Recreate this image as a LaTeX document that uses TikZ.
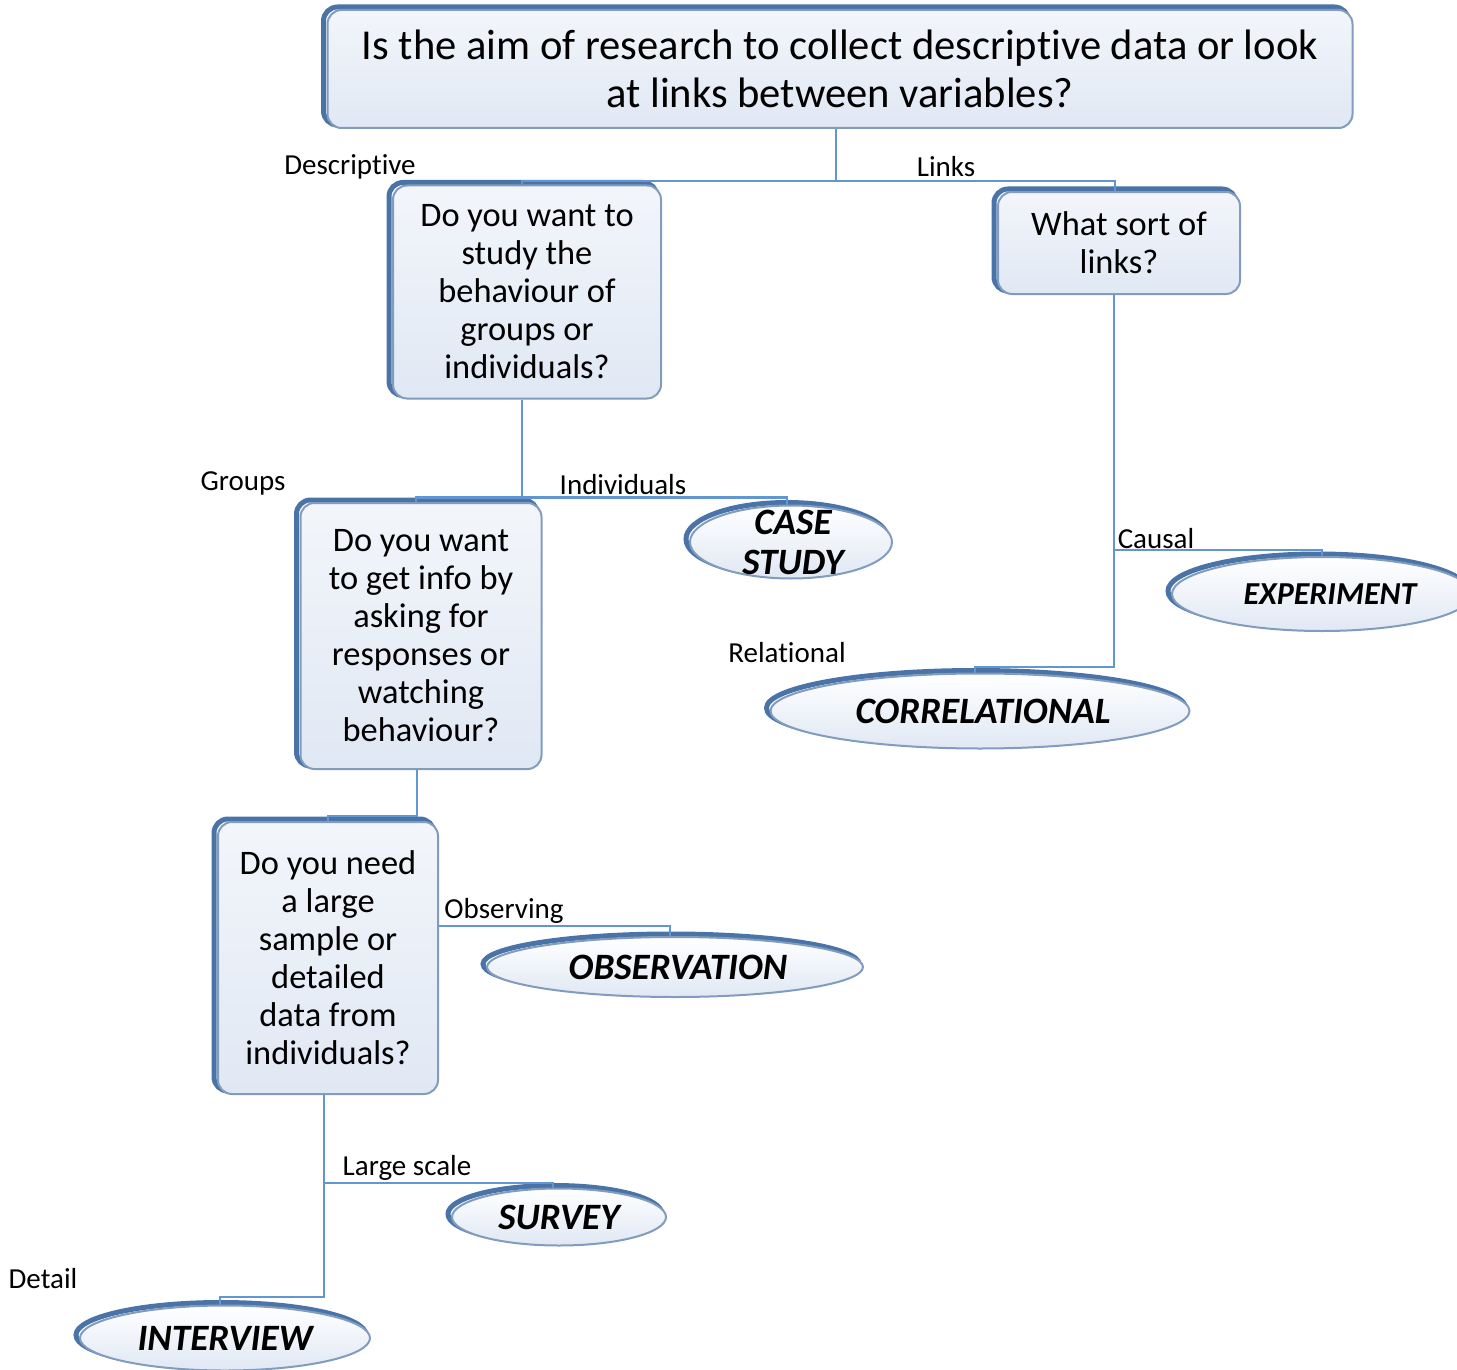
\documentclass[tikz,border=0pt]{standalone}
\usepackage{fontspec}
\setmainfont[Ligatures=NoCommon]{Carlito}
\usetikzlibrary{shapes.geometric}
\definecolor{edgeblue}{RGB}{74,116,168}
\definecolor{rimblue}{RGB}{130,156,190}
\definecolor{boxfill}{RGB}{224,232,244}
\definecolor{linkblue}{RGB}{98,150,210}
\begin{document}
\begin{tikzpicture}[x=0.5pt,y=-0.5pt,
  question/.style={draw=rimblue, line width=1pt, rounded corners=7pt,
    top color=white!60!boxfill, bottom color=boxfill, align=center, inner sep=0pt,
    font=\fontsize{17.2}{19}\selectfont,
    preaction={draw=edgeblue, line width=2.5pt, transform canvas={shift={(-2pt,1.5pt)}}}},
  method/.style={ellipse, draw=rimblue, line width=1pt, inner sep=0pt,
    top color=white, bottom color=boxfill,
    preaction={draw=edgeblue, line width=2.5pt, transform canvas={shift={(-2pt,1.5pt)}}}},
  methodtext/.style={font=\fontsize{18.6}{20}\selectfont\bfseries\itshape, align=center, inner sep=0pt},
  link/.style={draw=linkblue, line width=1.3pt},
  branch/.style={font=\fontsize{14.5}{16}\selectfont, inner sep=0pt}]
\useasboundingbox (0,0) rectangle (1457,1370);

\node[question, minimum width=512.5pt, minimum height=59pt, font=\fontsize{21.3}{24}\selectfont] (aim) at (840,69)
  {Is the aim of research to collect descriptive data or look\\at links between variables?};
\node[question, minimum width=134pt, minimum height=106.5pt] (who) at (527,292)
  {Do you want to\\study the\\behaviour of\\groups or\\individuals?};
\node[question, minimum width=121pt, minimum height=51pt] (sort) at (1119,243)
  {What sort of\\links?};
\node[question, minimum width=120.5pt, minimum height=133pt] (how) at (421,636)
  {Do you want\\to get info by\\asking for\\responses or\\watching\\behaviour?};
\node[question, minimum width=110pt, minimum height=136pt] (size) at (328,958)
  {Do you need\\a large\\sample or\\detailed\\data from\\individuals?};

\node[method, minimum width=101pt, minimum height=36.5pt, label={[methodtext, xshift=1pt]center:CASE\\STUDY}] (cs) at (791,542) {};
\node[method, minimum width=150pt, minimum height=37pt, label={[methodtext, xshift=4pt, font=\fontsize{16}{20}\selectfont\bfseries\itshape]center:EXPERIMENT}] (ex) at (1322,594) {};
\node[method, minimum width=209.5pt, minimum height=37.5pt, label={[methodtext, xshift=1.5pt]center:CORRELATIONAL}] (co) at (980,711) {};
\node[method, minimum width=188pt, minimum height=30pt, label={[methodtext, xshift=1.5pt]center:OBSERVATION}] (ob) at (675,967) {};
\node[method, minimum width=107pt, minimum height=28.5pt, label={[methodtext]center:SURVEY}] (sv) at (559,1217) {};
\node[method, minimum width=145pt, minimum height=32.5pt, label={[methodtext]center:INTERVIEW}] (iv) at (225,1338) {};

\node[branch] (ldesc) at (350,167) {Descriptive};
\node[branch] (llinks) at (946,167) {Links};
\node[branch] (lgroups) at (243,483) {Groups};
\node[branch] (lindiv) at (623,485) {Individuals};
\node[branch] (lcausal) at (1156,539) {Causal};
\node[branch] (lrel) at (787,653) {Relational};
\node[branch] (lobs) at (504,911) {Observing};
\node[branch] (llarge) at (407,1168) {Large scale};
\node[branch] (ldetail) at (43,1279) {Detail};

\draw[link] ([xshift=-2pt]aim.south) -- ++(0,52) coordinate (jaim) -| ([xshift=-2.5pt]who.north);
\draw[link] (jaim) -| ([xshift=-2pt]sort.north);
\draw[link] ([xshift=-2.5pt]who.south) -- ++(0,98) coordinate (jwho) -| ([xshift=-2.5pt]how.north);
\draw[link] (jwho) -| ([xshift=-2pt]cs.north);
\draw[link] ([xshift=-2.5pt]sort.south) -- ++(0,255) coordinate (jsort) -- ++(0,117) -| ([xshift=-2.5pt]co.north);
\draw[link] (jsort) -| (ex.north);
\draw[link] ([xshift=-2pt]how.south) -- ++(0,46) -| (size.north);
\draw[link] ([yshift=16pt]size.east) -| ([xshift=-2.5pt]ob.north);
\draw[link] ([xshift=-2pt]size.south) -- ++(0,88) coordinate (jsize) -- ++(0,114) -| ([xshift=-2.5pt]iv.north);
\draw[link] (jsize) -| ([xshift=-3pt]sv.north);
\end{tikzpicture}
\end{document}
